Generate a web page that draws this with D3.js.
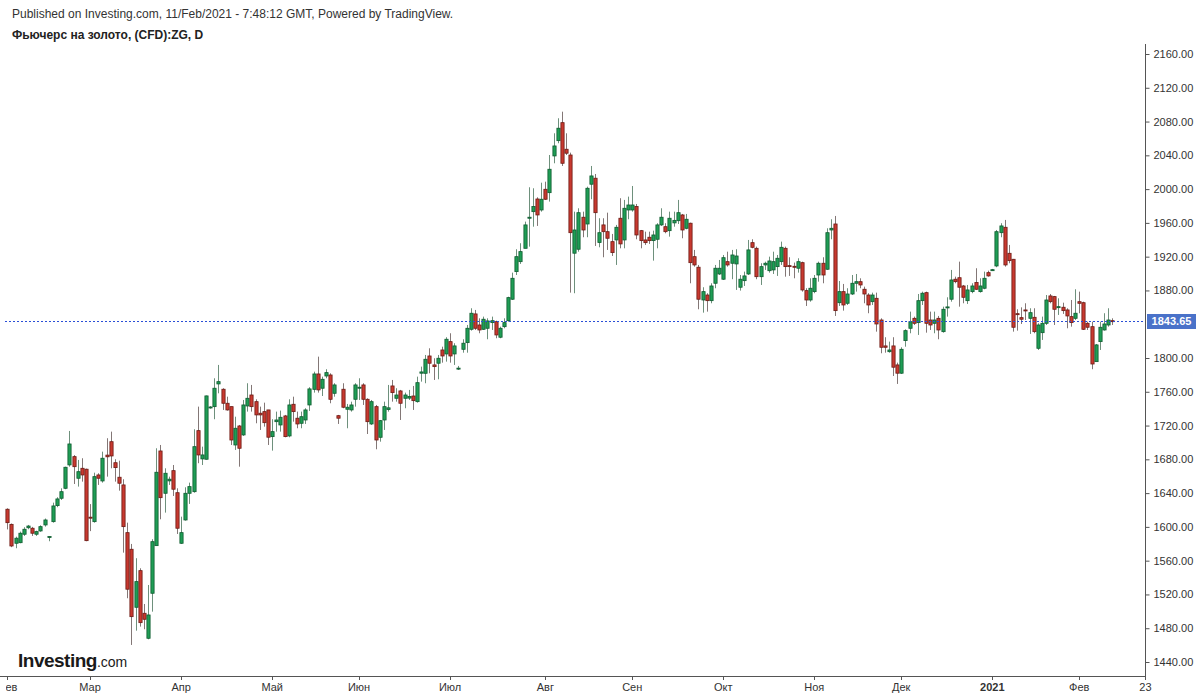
<!DOCTYPE html>
<html><head><meta charset="utf-8">
<script src="https://cdn.jsdelivr.net/npm/d3@7"></script>
<style>
html,body{margin:0;padding:0;background:#fff;}
svg{display:block;font-family:"Liberation Sans",Arial,sans-serif;}
</style></head>
<body>
<svg id="chart" width="1200" height="698"></svg>
<script>
// ---- DATA (daily OHLC, gold futures CFD ZG) ----
const openP = [1620.9,1603,1580.6,1581.3,1591.3,1599,1598.4,1591.3,1595.2,1602.3,1587.5,1606.2,1625.2,1633.9,1645.7,1673.4,1683.2,1657.6,1669.4,1668.3,
1611.5,1606.2,1661.5,1654.4,1685,1700.9,1676,1658.8,1649.7,1593.2,1573.5,1504.8,1548.2,1497.7,1468.1,1521.4,1577.8,1689.9,1639.8,1654.5,
1666.6,1640.5,1580.6,1608.2,1639.8,1641.7,1714,1680.5,1680.1,1741,1742.4,1769.3,1763,1746.4,1742.4,1697,1719.5,1708.9,1743.2,1756.2,
1748.3,1734.6,1736.5,1738.5,1706.9,1724.6,1720.7,1731.4,1707.7,1745.2,1728.7,1722.7,1726.6,1744.4,1762.9,1781.1,1764.2,1778.7,1779.9,1758.2,
1731.7,1763,1739.3,1738.5,1751.1,1764.6,1768.1,1751.1,1721.9,1742.4,1706.1,1726.6,1739,1766.9,1752.3,1761,1752.3,1752.5,1755,1748.3,
1782,1781.9,1802.4,1791.8,1793.8,1809.5,1804.8,1819.4,1804.8,1787.5,1810.3,1818.2,1834,1852.2,1839.1,1834,1835.2,1841.9,1843,1824.6,
1837.1,1844.2,1869.6,1902.3,1914.1,1929.9,1965.5,1973.3,1988.3,1975.3,1999.8,1995.8,2039.3,2057.4,2078.7,2047.2,2040.4,1924.1,1928.8,1966.7,
1958.7,2005.8,2012.9,1936.7,1957.6,1949.6,1937.8,1939.8,1965.5,1939.8,1975.3,1975.3,1979.3,1950.8,1939.8,1943,1939,1940.6,1957.6,1955.5,
1950.8,1960,1962.6,1969.4,1953.6,1959.6,1920,1907.5,1868.7,1874.6,1867.9,1888.5,1899.5,1893.3,1914.1,1912.2,1911.4,1883.8,1891.6,1899.5,
1936.6,1929.9,1896.3,1910.2,1903.4,1904.3,1908.2,1914.1,1929.9,1909.4,1908.6,1906.3,1912.9,1879.8,1868.7,1878.6,1898.3,1912.2,1905.1,1951.6,
1958.7,1865.5,1878.6,1864.8,1875.8,1888.5,1890.4,1881.4,1874.6,1866.7,1870.7,1845,1814.3,1807.5,1814.3,1791.8,1782,1820.6,1835.2,1847,
1841.9,1867.9,1877.4,1845,1841.1,1847,1831.2,1859.5,1869.6,1893.3,1895.1,1885.3,1867.9,1878.6,1889.3,1878.6,1882.6,1901.1,1903.8,1909,
1948.4,1954.8,1924,1916.9,1852.5,1847.8,1856.9,1847,1848.2,1811.5,1830,1841.1,1873.5,1872.7,1860,1860.1,1856.9,1849,1847,1866.7,
1865.5,1841.1,1837.1,1795.7,1819.4,1833.2,1839.1,1844.2];
const highP = [1622,1604,1588.4,1594.4,1599.6,1602.3,1600,1595.5,1601.9,1609.9,1589,1628.7,1635.1,1645.7,1671.3,1713.6,1685,1679.3,1681.3,1669,
1627,1664.2,1663.5,1689.1,1705,1712.8,1680.1,1678.4,1656.4,1605,1579.8,1562.9,1551,1508.7,1531.2,1585.4,1693.1,1697,1669.4,1659.5,
1673.3,1645.7,1612.1,1646.9,1652.4,1715.6,1742.4,1695,1755.5,1743,1776,1791.8,1764.2,1754.2,1742.4,1730.5,1720.7,1750.3,1770.1,1768.1,
1751.1,1742.4,1747.1,1738.5,1727.5,1736.5,1737.7,1732.6,1751.1,1754.2,1736.5,1736.5,1740.5,1765.4,1783.8,1801.6,1777.9,1786.7,1781.9,1770.1,
1732.6,1770.1,1745.6,1748.3,1770.1,1776,1770.1,1752.3,1750.3,1744.4,1726.6,1748.3,1768.1,1774,1764.2,1762.2,1759,1762.2,1766.9,1777.9,
1789.8,1803.6,1811.5,1799.7,1803.6,1813.4,1824.6,1829.3,1817.5,1790.6,1822.2,1839.1,1858.9,1856.9,1847,1849,1847,1849,1844.2,1837.1,
1847,1872.6,1901.1,1928.8,1935.9,1961.5,2002.2,2001,1990.3,2007.6,2008.8,2040.4,2066.1,2083.9,2091.7,2066.1,2043.2,1973.3,1977.3,1973.3,
2002.9,2027.4,2017.9,1965.5,1965.5,1972.1,1946.9,1957.6,1989.2,1987.2,1991.1,2003.7,1982.4,1951.6,1949.6,1949.6,1950.8,1959.6,1977.3,1959.6,
1973.3,1973.3,1987.2,1970.6,1970.6,1960.3,1928,1910.2,1883.8,1876.7,1888.5,1910.2,1916.1,1922,1925.9,1928,1928.8,1898.3,1902.3,1939.8,
1940.6,1931.9,1912.2,1914.1,1920,1925.9,1922,1937.8,1931.9,1919.3,1913,1918.1,1914.1,1882.6,1894.4,1898.3,1914.1,1919.3,1953.6,1964.3,
1968.2,1891.2,1887.7,1882.6,1898.3,1899.5,1894.4,1884.5,1876.7,1877.4,1877.4,1847,1824.6,1819.4,1824.6,1794.5,1812.7,1834,1854.9,1849,
1875.8,1878.6,1878.6,1854.9,1854.9,1849.8,1860.8,1871.9,1904.3,1896.3,1914.1,1886.5,1886.5,1888.5,1906.3,1894.4,1902.3,1903.4,1905.5,1951.6,
1959.6,1963.5,1933.9,1917.3,1857.7,1860,1864.8,1858.9,1858.9,1841.1,1849,1874.6,1875.8,1873.5,1870.7,1865.5,1858.9,1868.7,1881.4,1878.6,
1866.7,1843,1843,1816.6,1843,1853,1858.9,1847];
const lowP = [1597,1576,1574.7,1580.6,1589.3,1597.2,1589.3,1589.3,1594.2,1600.3,1583,1605,1623.3,1631.9,1644.6,1671.3,1650.8,1647.7,1653.6,1583,
1595,1605,1649.7,1652.4,1659.5,1669.4,1653.6,1642.9,1569.5,1515.5,1460.2,1477.1,1481.9,1478.8,1466.9,1499.6,1577.8,1609,1616.9,1649.7,
1636.6,1591.6,1579.8,1607.4,1627.2,1640.5,1675.4,1673.3,1679.7,1740,1727.5,1758.2,1738.5,1737.7,1697,1691.1,1671.3,1707.7,1736.5,1736.5,
1722.7,1714.8,1718.7,1697,1690.3,1712.8,1712.8,1706.1,1706.1,1724.6,1716.8,1716.8,1721.9,1737.3,1759,1759,1755,1776,1746.4,1754.2,
1721.9,1740.5,1716.8,1736.5,1742.4,1750.3,1744.4,1710,1720.7,1691.9,1700.9,1714.8,1736.5,1748.3,1748.3,1726.6,1740.5,1750.3,1738.5,1747.1,
1772,1770.1,1781.9,1774,1774.8,1794.5,1795.7,1794.5,1791.8,1785.8,1806.3,1806.3,1832.4,1833.2,1829.3,1833.2,1822.2,1833.2,1823.4,1823.4,
1835.2,1843,1868.7,1898.3,1911.4,1929.9,1931.9,1955.5,1956.4,1973.3,1987.2,1985.2,2030.6,2054.3,2027.4,2040.4,1877.4,1876.7,1925.9,1943,
1943,1988,1932.7,1931.1,1919.3,1928,1920.8,1910.2,1929.9,1929.9,1964.3,1973.3,1940.6,1929.9,1933.9,1935.1,1915.3,1929.9,1956.4,1947.7,
1943.7,1955.5,1958.7,1941.8,1952.4,1888.5,1908.2,1857.7,1853.7,1854.9,1864.8,1882.6,1898.3,1892.4,1908.2,1893.3,1880.6,1879.8,1885.3,1898.3,
1929.9,1893.3,1886.5,1904.3,1901.1,1899.5,1897.2,1910.2,1896.3,1897.2,1894.4,1901.1,1878.6,1861.6,1866.7,1876.7,1890.4,1888.5,1904.3,1940.6,
1849.8,1861.6,1856.1,1862.8,1874.6,1878.6,1882.6,1864.8,1853,1862.8,1831.2,1805.6,1806.3,1806.3,1778.7,1769.3,1781.1,1813.4,1829.3,1839.1,
1827.3,1862.8,1830,1833.2,1829.3,1822.2,1830,1849,1866.7,1888.5,1860.8,1864.8,1864,1876.7,1880.6,1877.4,1881.4,1896.3,1903,1907.5,
1943,1908.2,1912.2,1831.2,1832.4,1840.3,1845,1828.5,1829.3,1809.5,1821.4,1839.1,1864.8,1839.1,1851,1852.2,1835.2,1837.1,1845,1853,
1833.2,1833.2,1786.7,1795.7,1809.5,1832.4,1837.1,1839.1];
const closeP = [1605,1577.4,1586.6,1592.5,1597.2,1601,1592.5,1594.4,1600.3,1608.2,1588.5,1624.8,1633.1,1641.7,1670.6,1698.2,1671.3,1665.4,1661.5,1583.7,
1610.5,1659.5,1657.6,1681.3,1683,1684,1670.2,1651.7,1600.3,1526.2,1493.7,1535.2,1486.6,1490.6,1495.7,1582.5,1664.7,1634.6,1663.5,1656.5,
1644.6,1598.4,1593.2,1639.8,1647.7,1695,1685.2,1685.2,1755.1,1742,1764.2,1772,1746.4,1738.5,1702.9,1716.8,1693.1,1744.4,1752.3,1742.4,
1732.6,1732.6,1723.4,1706.2,1712.8,1726.6,1729.8,1706.9,1744.4,1736.5,1721.9,1730.5,1738.5,1763.4,1781.1,1762.2,1774.8,1782.7,1751.1,1768.1,
1728.7,1741.7,1741.7,1744.4,1768.1,1765.4,1751.1,1724.6,1748.3,1702.9,1725.8,1742.4,1741,1759,1756.2,1746.4,1756.2,1754.5,1749.5,1770.8,
1783.5,1798.5,1793.8,1789.8,1799.7,1802.4,1822.2,1802.4,1814.3,1788,1817.5,1835.2,1853,1835.2,1833.2,1845.9,1843.9,1844.2,1827.3,1835.2,
1841.9,1871.5,1894.4,1920,1926,1957.6,1966.7,1979.3,1969.4,1988,1988,2023.5,2051.1,2072.1,2030.6,2042.5,1948.4,1951.6,1972.1,1951.6,
2001,2015.6,1972.1,1948.4,1949.6,1941.8,1924.8,1954.8,1935.1,1977.3,1981.2,1981.2,1945.7,1939,1936.6,1939,1945.7,1957.6,1966.7,1949.6,
1965.5,1963,1972.1,1951.6,1964.3,1912.9,1910.2,1869.6,1878.6,1867.9,1885.3,1906.3,1906.3,1918.8,1910.2,1922,1920.8,1893.3,1897.2,1928,
1931.1,1896.3,1908.2,1912.2,1914.9,1914.1,1918.1,1931.1,1908.2,1908.2,1907.8,1914.1,1880.6,1868.7,1882.6,1894.4,1912.2,1898.3,1948.4,1953.6,
1856.1,1878.6,1862.8,1875.8,1888.5,1890.4,1886.5,1875.8,1862.8,1874.6,1840.3,1812.7,1812.7,1809.5,1789.1,1782,1810.3,1832.4,1843,1841.1,
1867.9,1876.7,1841.1,1839.1,1845,1833.2,1857.7,1860.5,1892.4,1890.4,1883.8,1871.9,1880.6,1885.3,1881.4,1885.3,1894.4,1897.2,1904.6,1949.6,
1956.4,1910.2,1915.3,1836.4,1852,1845.9,1856.1,1853.7,1831.2,1839.1,1841.1,1868.7,1866.7,1857.7,1860.8,1856.1,1849.8,1841.9,1853,1864.8,
1834,1836.4,1792.9,1815.5,1836.4,1840.3,1845,1843.65];

const firstDay = "2020-02-03";
const holidays = ["2020-12-25"];
const monthNames = ["Янв","Фев","Мар","Апр","Май","Июн","Июл","Авг","Сен","Окт","Ноя","Дек"];
const extraDayLabel = {date:"2021-02-23", text:"23"};
const priceTicks = [1440,1480,1520,1560,1600,1640,1680,1720,1760,1800,1840,1880,1920,1960,2000,2040,2080,2120,2160];
const lastPrice = 1843.65;
const headerText = "Published on Investing.com, 11/Feb/2021 - 7:48:12 GMT, Powered by TradingView.";
const titleText = "Фьючерс на золото, (CFD):ZG, D";

// ---- calendar of trading days (weekdays minus holidays), extended into future ----
const fmt = d3.utcFormat("%Y-%m-%d");
const days = [];
{
  let d = new Date(firstDay + "T00:00:00Z");
  while (days.length < closeP.length + 12) {
    const wd = d.getUTCDay();
    if (wd !== 0 && wd !== 6 && !holidays.includes(fmt(d))) days.push(new Date(d));
    d = d3.utcDay.offset(d, 1);
  }
}

const W = 1200, H = 698;
const plotL = 5, plotR = 1145, axisBottom = 676;
const svg = d3.select("#chart");

const x = d3.scaleLinear().domain([0, closeP.length - 1]).range([7.3, 1112.3]);
const y = d3.scaleLinear().domain([1440, 2160]).range([662, 54]);

// clip
const defs = svg.append("defs");
defs.append("clipPath").attr("id","plotclip").append("rect")
  .attr("x", plotL - 1).attr("y", 40).attr("width", plotR - plotL + 1).attr("height", axisBottom - 40);
defs.append("clipPath").attr("id","xlabclip").append("rect")
  .attr("x", 6).attr("y", axisBottom).attr("width", 1160).attr("height", 30);

// header
svg.append("text").attr("x", 12).attr("y", 18).attr("font-size", 12).attr("fill", "#333")
  .text(headerText);
svg.append("text").attr("x", 12).attr("y", 39).attr("font-size", 12).attr("font-weight", "bold").attr("fill", "#222")
  .text(titleText);

// axes lines
svg.append("line").attr("x1", plotR + 0.5).attr("x2", plotR + 0.5).attr("y1", 44).attr("y2", axisBottom)
  .attr("stroke", "#555").attr("stroke-width", 1);
svg.append("line").attr("x1", 0).attr("x2", plotR + 0.5).attr("y1", axisBottom + 0.5).attr("y2", axisBottom + 0.5)
  .attr("stroke", "#555").attr("stroke-width", 1);

// y axis (the label under the last-price tag is hidden, as in the original)
const tagY = y(lastPrice);
const visibleTicks = priceTicks.filter(v => Math.abs(y(v) - tagY) > 12);
const yAxis = d3.axisRight(y).tickValues(visibleTicks).tickSize(4).tickPadding(4).tickFormat(d3.format(".2f"));
const gy = svg.append("g").attr("transform", `translate(${plotR + 0.5},0)`).call(yAxis);
gy.select(".domain").remove();
gy.selectAll("text").attr("font-size", 11).attr("fill", "#333").attr("font-family", "Liberation Sans, Arial, sans-serif");
gy.selectAll("line").attr("stroke", "#555");

// x axis labels (first bar of each month within the data, plus a day label in the future space)
const xTicks = [];
days.forEach((d, i) => {
  if (i < closeP.length && (i === 0 || d.getUTCMonth() !== days[i - 1].getUTCMonth())) {
    const m = d.getUTCMonth();
    xTicks.push({i, text: m === 0 ? String(d.getUTCFullYear()) : monthNames[m], bold: m === 0});
  }
  if (fmt(d) === extraDayLabel.date) xTicks.push({i, text: extraDayLabel.text, bold: false});
});
const xl = svg.append("g").attr("clip-path", "url(#xlabclip)");
xl.selectAll("line").data(xTicks).join("line")
  .attr("x1", d => Math.round(x(d.i)) + 0.5).attr("x2", d => Math.round(x(d.i)) + 0.5)
  .attr("y1", axisBottom).attr("y2", axisBottom + 4).attr("stroke", "#555");
xl.selectAll("text").data(xTicks).join("text")
  .attr("x", d => x(d.i)).attr("y", axisBottom + 15).attr("text-anchor", "middle")
  .attr("font-size", 11).attr("fill", "#333").attr("font-weight", d => d.bold ? "bold" : "normal")
  .text(d => d.text);

// candles
const plot = svg.append("g").attr("clip-path", "url(#plotclip)");
const idx = d3.range(closeP.length);
plot.selectAll("line.wick").data(idx).join("line").attr("class", "wick")
  .attr("x1", i => Math.round(x(i)) + 0.5).attr("x2", i => Math.round(x(i)) + 0.5)
  .attr("y1", i => y(highP[i])).attr("y2", i => y(lowP[i]))
  .attr("stroke", i => closeP[i] >= openP[i] ? "#3d6b50" : "#5a4a48").attr("stroke-opacity", 0.75).attr("stroke-width", 1);
plot.selectAll("rect.body").data(idx).join("rect").attr("class", "body")
  .attr("x", i => Math.round(x(i)) + 0.5 - 1.6).attr("width", 3.2)
  .attr("y", i => y(Math.max(openP[i], closeP[i])))
  .attr("height", i => Math.max(1, Math.abs(y(openP[i]) - y(closeP[i]))))
  .attr("fill", i => closeP[i] >= openP[i] ? "#1f9d55" : "#c8392f")
  .attr("stroke", i => closeP[i] >= openP[i] ? "#0e5a2f" : "#6b1a14").attr("stroke-width", 0.8);

// last price line + tag
const ty = Math.round(tagY);
svg.append("line").attr("x1", plotL).attr("x2", plotR).attr("y1", ty + 0.5).attr("y2", ty + 0.5)
  .attr("stroke", "#2b4fd6").attr("stroke-width", 1).attr("stroke-dasharray", "2,2");
svg.append("rect").attr("x", plotR + 2).attr("y", ty - 7).attr("width", 49).attr("height", 15).attr("fill", "#4a72c9");
svg.append("text").attr("x", plotR + 26.5).attr("y", ty + 4).attr("text-anchor", "middle")
  .attr("font-size", 11).attr("font-weight", "bold").attr("fill", "#fff").text(lastPrice.toFixed(2));

// logo
const logo = svg.append("text").attr("x", 18).attr("y", 667).attr("fill", "#1a1a1a");
logo.append("tspan").attr("font-size", 19).attr("font-weight", "bold").attr("letter-spacing", -0.5).text("Investing");
logo.append("tspan").attr("font-size", 14).text(".com");
</script>
</body></html>
